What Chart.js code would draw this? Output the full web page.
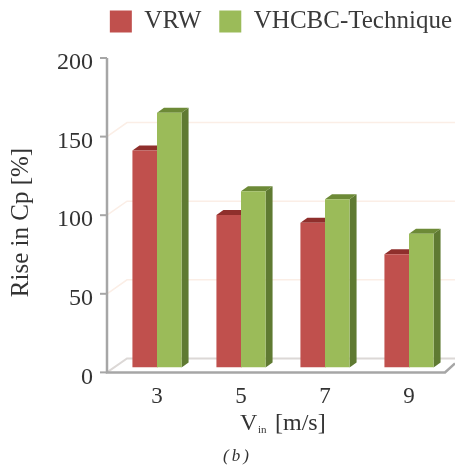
<!DOCTYPE html>
<html>
<head>
<meta charset="utf-8">
<style>
  html, body { margin: 0; padding: 0; background: #fff; }
  canvas { display: block; }
</style>
<script src="https://cdn.jsdelivr.net/npm/chart.js@4"></script>
</head>
<body>
<canvas id="chart" width="455" height="465"></canvas>
<script>
const categories = ["3", "5", "7", "9"];
const vrw = [138, 97, 92, 72];
const vhcbc = [162, 112, 107, 85];

const serif = "'Liberation Serif', serif";
const axisColor = "#a6a6a6";

// pseudo 3d: how far the bars and the back wall are pushed
const barLift = 5, depthX = 7, depthY = 5;
const wallX = 20, wallY = 14, axisGap = 8;

function poly(ctx, pts, color) {
  ctx.fillStyle = color;
  ctx.beginPath();
  pts.forEach((p, i) => i ? ctx.lineTo(p[0], p[1]) : ctx.moveTo(p[0], p[1]));
  ctx.closePath();
  ctx.fill();
}

const look3d = {
  id: "look3d",
  afterLayout(chart) {
    // legend sits further right and higher than the default box
    chart.legend.right += 19;
    chart.legend.top -= 14;
  },
  beforeDatasetsDraw(chart) {
    const ctx = chart.ctx, y = chart.scales.y, area = chart.chartArea;
    const left = area.left - axisGap;
    const y0 = y.getPixelForValue(0);
    const right = left + 338;
    ctx.save();

    // back wall lines
    y.ticks.forEach(t => {
      if (t.value === 200) return;
      const py = y.getPixelForValue(t.value);
      ctx.strokeStyle = t.value === 0 ? "#dcd8d6" : "#fbeee6";
      ctx.lineWidth = t.value === 0 ? 2 : 1.5;
      ctx.beginPath();
      ctx.moveTo(left, py);
      ctx.lineTo(left + wallX, py - wallY);
      ctx.lineTo(455, py - wallY);
      ctx.stroke();
    });

    // axes
    ctx.strokeStyle = axisColor;
    ctx.lineWidth = 2.5;
    ctx.beginPath();
    ctx.moveTo(left, y.getPixelForValue(200));
    ctx.lineTo(left, y0);
    ctx.lineTo(right, y0);
    ctx.lineTo(right + 10, y0 - 9);
    ctx.stroke();
    ctx.lineWidth = 2;
    y.ticks.forEach(t => {
      const py = y.getPixelForValue(t.value);
      ctx.beginPath();
      ctx.moveTo(left - 7, py);
      ctx.lineTo(left, py);
      ctx.stroke();
    });
    ctx.restore();

    // bars sit a little above the front axis line
    ctx.save();
    ctx.translate(0, -barLift);
    const sides = ["#8f2f2c", "#5f7a32"];
    const tops = ["#8f2f2c", "#6d8a37"];
    [0, 1].forEach(d => {
      chart.getDatasetMeta(d).data.forEach(bar => {
        const x1 = bar.x - bar.width / 2, x2 = bar.x + bar.width / 2;
        poly(ctx, [[x2, bar.y], [x2 + depthX, bar.y - depthY], [x2 + depthX, bar.base - depthY], [x2, bar.base]], sides[d]);
        poly(ctx, [[x1, bar.y], [x1 + depthX, bar.y - depthY], [x2 + depthX, bar.y - depthY], [x2, bar.y]], tops[d]);
      });
    });
  },
  afterDatasetsDraw(chart) {
    chart.ctx.restore();
  },
  afterDraw(chart) {
    const ctx = chart.ctx;
    ctx.save();
    ctx.fillStyle = "#333333";
    ctx.textBaseline = "alphabetic";
    // x title with the small "in"
    ctx.font = "24px " + serif;
    ctx.fillText("V", 240, 430);
    ctx.font = "11px " + serif;
    ctx.fillText("in", 258, 433);
    ctx.font = "24px " + serif;
    ctx.fillText("[m/s]", 275, 430);
    ctx.font = "italic 17px " + serif;
    ctx.letterSpacing = "3px";
    ctx.fillText("(b)", 223, 461);
    ctx.letterSpacing = "0px";
    // y title
    ctx.translate(28, 222.5);
    ctx.rotate(-Math.PI / 2);
    ctx.textAlign = "center";
    ctx.font = "25px " + serif;
    ctx.fillText("Rise in Cp [%]", 0, 0);
    ctx.restore();
  }
};

new Chart(document.getElementById("chart"), {
  type: "bar",
  data: {
    labels: categories,
    datasets: [
      { label: "VRW", data: vrw, backgroundColor: "#c0504d" },
      { label: "VHCBC-Technique", data: vhcbc, backgroundColor: "#9bbb59" }
    ]
  },
  options: {
    responsive: false,
    animation: false,
    categoryPercentage: 0.585,
    barPercentage: 1,
    layout: { padding: { left: 0, right: 4, top: 5, bottom: 43 } },
    plugins: {
      tooltip: { enabled: false },
      legend: {
        position: "top",
        align: "end",
        labels: {
          boxWidth: 22,
          boxHeight: 22,
          padding: 18,
          color: "#3a3a3a",
          font: { family: serif, size: 25 }
        }
      }
    },
    scales: {
      x: {
        grid: { display: false, drawTicks: false },
        border: { display: false },
        ticks: { color: "#333333", padding: 11, font: { family: serif, size: 23 } }
      },
      y: {
        min: 0,
        max: 200,
        afterFit(scale) { scale.width = 115; },
        grid: { display: false, drawTicks: false },
        border: { display: false },
        ticks: { stepSize: 50, color: "#333333", padding: 22, labelOffset: 5, font: { family: serif, size: 24 } }
      }
    }
  },
  plugins: [look3d]
});
</script>
</body>
</html>
